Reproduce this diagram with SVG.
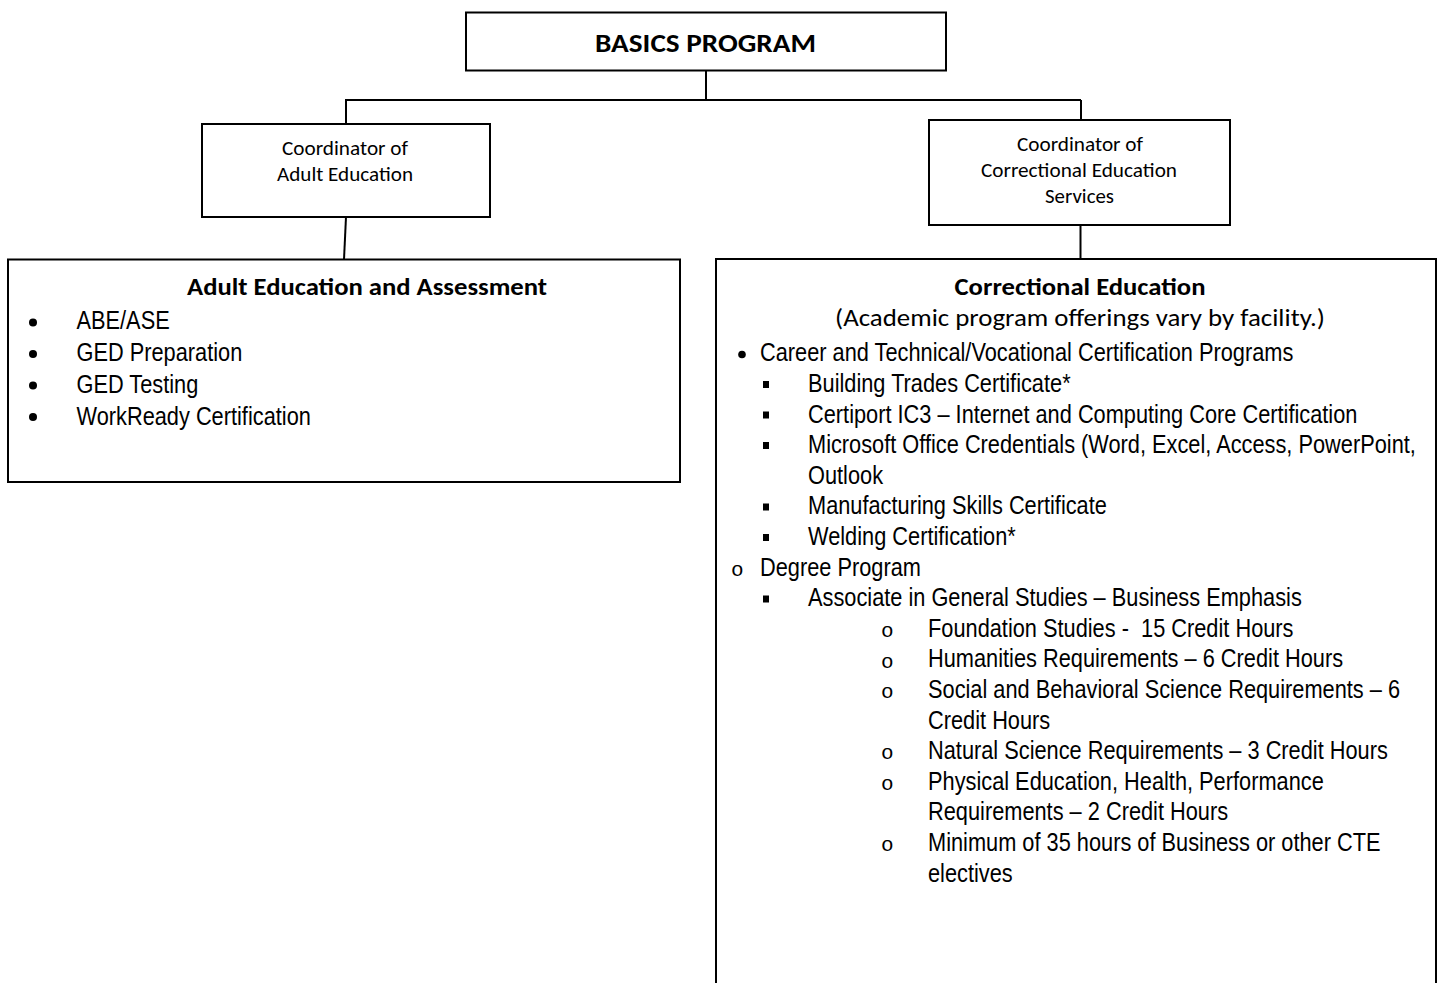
<svg xmlns="http://www.w3.org/2000/svg" width="1450" height="983" viewBox="0 0 1450 983">
<style>
.box{fill:#fff;stroke:#000;stroke-width:2}
.con{fill:none;stroke:#000;stroke-width:2}
.cal{font-family:"Carlito","Liberation Sans","Noto Sans",sans-serif;fill:#000}
.hd{font-weight:bold;font-size:23.5px}
.co{font-size:21px}
.nar{font-family:"Liberation Sans Narrow","Liberation Sans",sans-serif;font-size:25px;fill:#000}
.oo{font-family:"Liberation Mono","DejaVu Sans Mono",monospace;font-size:21px;fill:#000}
</style>
<rect width="1450" height="983" fill="#fff"/>
<g id="connectors">
<path class="con" d="M706 70.5V100M345 100H1081M346 100V124M1081 100V120"/>
<path class="con" d="M346 217L344 259.5"/>
<path class="con" d="M1080.5 225V259"/>
</g>
<g id="basics">
<rect class="box" x="466" y="12.5" width="480" height="58"/>
<text class="cal" x="705.5" y="51.5" font-size="26.5" font-weight="bold" text-anchor="middle" textLength="221" lengthAdjust="spacingAndGlyphs">BASICS PROGRAM</text>
</g>
<g id="coord-adult">
<rect class="box" x="202" y="124" width="288" height="93"/>
<text class="cal co" x="345" y="155" text-anchor="middle" textLength="126" lengthAdjust="spacingAndGlyphs">Coordinator of</text>
<text class="cal co" x="345" y="180.5" text-anchor="middle" textLength="136" lengthAdjust="spacingAndGlyphs">Adult Education</text>
</g>
<g id="coord-correctional">
<rect class="box" x="929" y="120" width="301" height="105"/>
<text class="cal co" x="1080" y="151" text-anchor="middle" textLength="126" lengthAdjust="spacingAndGlyphs">Coordinator of</text>
<text class="cal co" x="1079" y="177" text-anchor="middle" textLength="196" lengthAdjust="spacingAndGlyphs">Correctional Education</text>
<text class="cal co" x="1079.5" y="203" text-anchor="middle" textLength="69" lengthAdjust="spacingAndGlyphs">Services</text>
</g>
<g id="adult-education">
<rect class="box" x="8" y="259.5" width="672" height="222.5"/>
<text class="cal hd" x="367" y="295" text-anchor="middle" textLength="360" lengthAdjust="spacingAndGlyphs">Adult Education and Assessment</text>
<circle cx="33" cy="322.5" r="4"/>
<circle cx="33" cy="354" r="4"/>
<circle cx="33" cy="385.5" r="4"/>
<circle cx="33" cy="417" r="4"/>
<g class="nar" transform="translate(76.5,0) scale(0.8712,1)">
<text x="0" y="329">ABE/ASE</text>
<text x="0" y="361">GED Preparation</text>
<text x="0" y="393">GED Testing</text>
<text x="0" y="425">WorkReady Certification</text>
</g>
</g>
<g id="correctional-education">
<rect class="box" x="716" y="259" width="720" height="740"/>
<text class="cal hd" x="1080" y="295" text-anchor="middle" textLength="251" lengthAdjust="spacingAndGlyphs">Correctional Education</text>
<text class="cal" x="1080" y="326" font-size="24" text-anchor="middle" textLength="490" lengthAdjust="spacingAndGlyphs">(Academic program offerings vary by facility.)</text>
<circle cx="742" cy="354.5" r="3.8"/>
<g>
<rect x="763" y="381" width="6" height="7"/>
<rect x="763" y="411.5" width="6" height="7"/>
<rect x="763" y="442" width="6" height="7"/>
<rect x="763" y="503.5" width="6" height="7"/>
<rect x="763" y="534" width="6" height="7"/>
<rect x="763" y="595.5" width="6" height="7"/>
</g>
<text class="oo" x="731" y="575.7">o</text>
<text class="oo" x="881" y="636.9">o</text>
<text class="oo" x="881" y="667.5">o</text>
<text class="oo" x="881" y="698.1">o</text>
<text class="oo" x="881" y="759.3">o</text>
<text class="oo" x="881" y="789.9">o</text>
<text class="oo" x="881" y="851.1">o</text>
<g class="nar" transform="translate(760,0) scale(0.8712,1)">
<text x="0" y="361.5">Career and Technical/Vocational Certification Programs</text>
<text x="0" y="575.7">Degree Program</text>
</g>
<g class="nar" transform="translate(808,0) scale(0.8712,1)">
<text x="0" y="392.1">Building Trades Certificate*</text>
<text x="0" y="422.7">Certiport IC3 – Internet and Computing Core Certification</text>
<text x="0" y="453.3">Microsoft Office Credentials (Word, Excel, Access, PowerPoint,</text>
<text x="0" y="483.9">Outlook</text>
<text x="0" y="514.5">Manufacturing Skills Certificate</text>
<text x="0" y="545.1">Welding Certification*</text>
<text x="0" y="606.3">Associate in General Studies – Business Emphasis</text>
</g>
<g class="nar" transform="translate(928,0) scale(0.8712,1)">
<text x="0" y="636.9" xml:space="preserve">Foundation Studies -  15 Credit Hours</text>
<text x="0" y="667.5">Humanities Requirements – 6 Credit Hours</text>
<text x="0" y="698.1">Social and Behavioral Science Requirements – 6</text>
<text x="0" y="728.7">Credit Hours</text>
<text x="0" y="759.3">Natural Science Requirements – 3 Credit Hours</text>
<text x="0" y="789.9">Physical Education, Health, Performance</text>
<text x="0" y="820.5">Requirements – 2 Credit Hours</text>
<text x="0" y="851.1">Minimum of 35 hours of Business or other CTE</text>
<text x="0" y="881.7">electives</text>
</g>
</g>
</svg>
